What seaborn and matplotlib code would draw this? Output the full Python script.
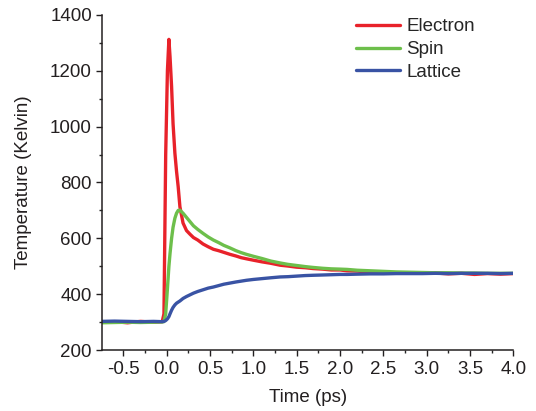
import pandas as pd
import numpy as np
import seaborn as sns
import matplotlib.pyplot as plt
from matplotlib.ticker import MultipleLocator

# time axis (ps)
time = [-0.75, -0.6, -0.45, -0.3, -0.15, -0.05, -0.03, -0.01, 0.01, 0.027,
        0.04, 0.058, 0.075, 0.096, 0.115, 0.134, 0.154, 0.19, 0.23, 0.27,
        0.31, 0.36, 0.42, 0.48, 0.54, 0.6, 0.66, 0.73, 0.8, 0.86,
        0.92, 1.0, 1.1, 1.2, 1.31, 1.4, 1.5, 1.6, 1.69, 1.8,
        1.9, 2.0, 2.08, 2.2, 2.35, 2.5, 2.65, 2.8, 2.95, 3.1,
        3.25, 3.4, 3.55, 3.7, 3.85, 4.0]

electron = [300, 302, 298, 303, 300, 302, 330, 900, 1200, 1312,
            1250, 1143, 1010, 905, 840, 785, 713, 655, 628, 615,
            603, 594, 580, 570, 561, 556, 550, 543, 537, 531,
            527, 522, 516, 511, 504, 501, 497, 495, 492, 490,
            487, 487, 484, 483, 479, 478, 477, 476, 475, 476,
            473, 475, 471, 474, 472, 474]

spin = [298, 299, 300, 299, 300, 301, 302, 330, 420, 500,
        546, 600, 640, 672, 690, 700, 701, 690, 675, 660,
        645, 632, 618, 605, 594, 585, 575, 566, 556, 549,
        543, 536, 528, 519, 512, 507, 503, 499, 496, 493,
        491, 490, 489, 486, 484, 482, 480, 479, 478, 477,
        477, 476, 476, 475, 475, 475]

lattice = [303, 304, 303, 302, 303, 302, 303, 306, 312, 320,
           330, 343, 353, 362, 368, 372, 376, 385, 392, 398,
           404, 410, 416, 422, 426, 431, 436, 440, 444, 447,
           450, 453, 456, 459, 462, 463, 465, 467, 468, 469,
           470, 471, 471, 472, 473, 473, 474, 474, 474, 475,
           474, 475, 475, 475, 474, 475]

series = ['Electron', 'Spin', 'Lattice']
colors = ['#e8222a', '#6dbf4b', '#3953a4']

# long form table for seaborn
df = pd.concat([
    pd.DataFrame({'Time': time, 'Temp': vals, 'Series': name})
    for name, vals in zip(series, [electron, spin, lattice])
])

sns.set_style('ticks')
plt.rcParams['font.family'] = ['Liberation Sans', 'DejaVu Sans']

fig = plt.figure(figsize=(5.36, 4.11), dpi=100)
ax = fig.add_axes([0.191, 0.148, 0.767, 0.816])

sns.lineplot(data=df, x='Time', y='Temp', hue='Series', hue_order=series,
             palette=colors, linewidth=2.4, sort=False, ax=ax)

ax.set_xlim(-0.74, 4.0)
ax.set_ylim(200, 1400)
ax.xaxis.set_major_locator(MultipleLocator(0.5))
ax.xaxis.set_minor_locator(MultipleLocator(0.25))
ax.yaxis.set_major_locator(MultipleLocator(200))
ax.yaxis.set_minor_locator(MultipleLocator(100))
ax.xaxis.set_major_formatter(plt.FormatStrFormatter('%.1f'))
ax.tick_params(which='major', length=4.5, width=1, labelsize=13.5,
               colors='#231f20', pad=3)
ax.tick_params(which='minor', length=2.5, width=1)
for s in ['left', 'bottom']:
    ax.spines[s].set_linewidth(1.1)
    ax.spines[s].set_color('#231f20')
sns.despine(ax=ax)

ax.set_xlabel('Time (ps)', fontsize=13.5, color='#231f20', labelpad=8)
ax.set_ylabel('Temperature (Kelvin)', fontsize=13.5, color='#231f20', labelpad=13)

ax.legend(loc='upper left', bbox_to_anchor=(0.575, 1.04), frameon=False,
          fontsize=13.5, handlelength=2.35, handletextpad=0.35, labelspacing=0.3)

fig.savefig('out.png', dpi=100)
